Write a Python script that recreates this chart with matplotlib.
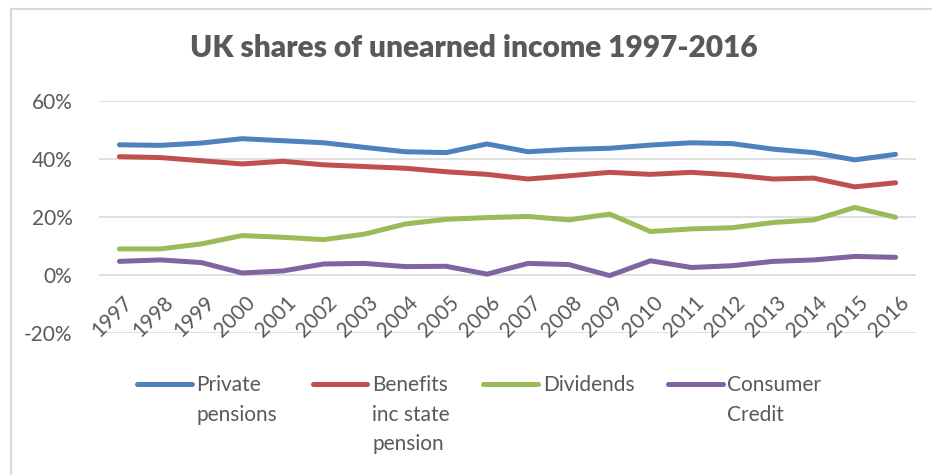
import matplotlib
matplotlib.use("Agg")
import matplotlib.pyplot as plt
from matplotlib.lines import Line2D
from matplotlib.ticker import FuncFormatter
import matplotlib.transforms as mtransforms

years = ["1997", "1998", "1999", "2000", "2001", "2002", "2003", "2004", "2005", "2006",
         "2007", "2008", "2009", "2010", "2011", "2012", "2013", "2014", "2015", "2016"]
private_pensions = [44.9, 44.7, 45.5, 47.0, 46.3, 45.6, 44.0, 42.5, 42.2, 45.2,
                    42.5, 43.3, 43.7, 44.8, 45.6, 45.3, 43.4, 42.2, 39.7, 41.6]
benefits = [40.8, 40.5, 39.4, 38.3, 39.2, 38.0, 37.4, 36.8, 35.6, 34.7,
            33.1, 34.2, 35.4, 34.7, 35.4, 34.5, 33.1, 33.4, 30.4, 31.8]
dividends = [9.0, 9.0, 10.7, 13.6, 13.0, 12.2, 14.1, 17.6, 19.2, 19.8,
             20.2, 19.0, 21.0, 15.0, 15.9, 16.3, 18.1, 19.0, 23.3, 19.9]
consumer_credit = [4.7, 5.2, 4.3, 0.7, 1.4, 3.8, 4.0, 2.9, 3.0, 0.3,
                   4.0, 3.6, -0.2, 4.9, 2.6, 3.2, 4.7, 5.2, 6.4, 6.1]
series_names = ["Private\npensions", "Benefits\ninc state\npension", "Dividends", "Consumer\nCredit"]
series_values = [private_pensions, benefits, dividends, consumer_credit]
colors = ["#4F81BD", "#C0504D", "#9BBB59", "#8064A2"]
title = "UK shares of unearned income 1997-2016"

W, H = 932, 475
fig = plt.figure(figsize=(W / 100, H / 100), dpi=100)
FONT = "Lato"
TXT = "#595959"

def fx(px):
    return px / W

def fy(py):
    return 1 - py / H

ax = fig.add_axes([fx(99), fy(333), fx(916) - fx(99), fy(101) - fy(333)])
x = list(range(len(years)))
for vals, c in zip(series_values, colors):
    ax.plot(x, vals, color=c, lw=3.6, solid_capstyle="round", solid_joinstyle="round", zorder=3)

ax.set_xlim(-0.5, len(years) - 0.5)
ax.set_ylim(-20, 60)
ax.set_yticks([-20, 0, 20, 40, 60])
ax.yaxis.set_major_formatter(FuncFormatter(lambda v, p: f"{v:.0f}%"))
ax.grid(axis="y", color="#d9d9d9", lw=1.2)
ax.set_axisbelow(True)
for s in ax.spines.values():
    s.set_visible(False)
ax.tick_params(axis="y", length=0, pad=19, labelsize=15, labelcolor=TXT)
for lab in ax.get_yticklabels():
    lab.set_fontfamily(FONT)
ax.set_xticks([])

# category labels at the zero line
offset = mtransforms.ScaledTranslation(3 / 100, -17 / 100, fig.dpi_scale_trans)
for i, y in enumerate(years):
    ax.text(i, 0, y, transform=ax.transData + offset, rotation=45, rotation_mode="anchor",
            ha="right", va="top", fontsize=15, color=TXT, fontfamily=FONT)

fig.text(fx(474), fy(48), title, ha="center", va="center", fontsize=21.5,
         fontweight="heavy", color=TXT, fontfamily=FONT)

# legend
handles = [(137, 192, 196), (313, 367, 372), (483, 538, 543), (668, 723, 727)]
ly = 384
for (x0, x1, tx), name, c in zip(handles, series_names, colors):
    fig.add_artist(Line2D([fx(x0), fx(x1)], [fy(ly), fy(ly)], color=c, lw=3.6,
                          solid_capstyle="round"))
    fig.text(fx(tx), fy(ly), name, ha="left", va="top", fontsize=15, color=TXT,
             fontfamily=FONT, linespacing=1.6,
             transform=fig.transFigure + mtransforms.ScaledTranslation(0, 9 / 100, fig.dpi_scale_trans))

# chart border
fig.add_artist(Line2D([fx(11), 1], [fy(9), fy(9)], color="#d9d9d9", lw=1.5))
fig.add_artist(Line2D([fx(11), fx(11)], [fy(9), 0], color="#d9d9d9", lw=1.5))

fig.savefig("out.png", dpi=100)
